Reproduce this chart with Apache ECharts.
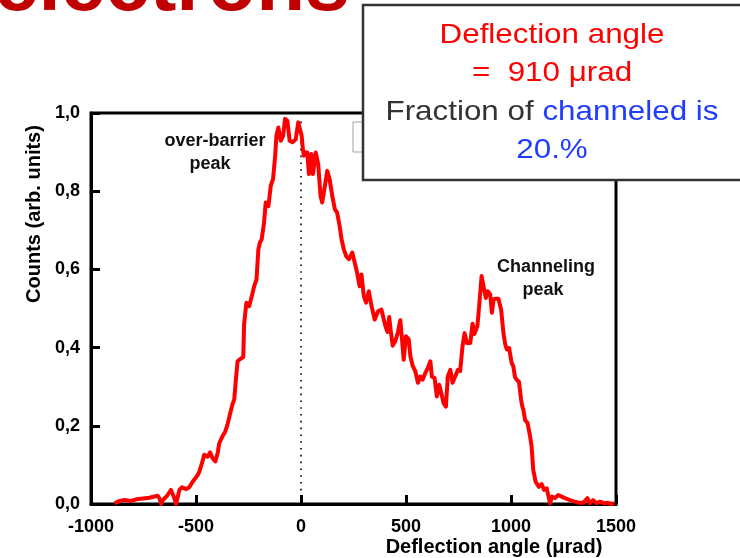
<!DOCTYPE html>
<html>
<head>
<meta charset="utf-8">
<script src="https://cdn.jsdelivr.net/npm/echarts@6/dist/echarts.min.js"></script>
<style>
  html, body { margin: 0; padding: 0; background: #fff; }
  #chart { width: 740px; height: 558px; }
</style>
</head>
<body>
<div id="chart"></div>
<script>
// Deflection angle (µrad) of each sample of the measured profile
const angle = [
  -888, -864, -840, -809, -785, -753, -722, -698, -682, -674, -666, -658, -635, -619, -603, -595,
  -579, -566, -547, -532, -516, -492, -484, -469, -461, -445, -433, -421, -408, -397, -389, -374,
  -361, -350, -339, -326, -318, -310, -302, -286, -275, -271, -260, -247, -234, -223, -212, -203,
  -196, -187, -176, -168, -155, -144, -133, -123, -117, -108, -96, -85, -76, -65, -54, -41,
  -25, -13, -5, 3, 9, 14, 19, 30, 38, 49, 57, 70, 82, 93, 101, 114,
  125, 136, 149, 161, 172, 184, 193, 204, 215, 228, 244, 256, 267, 279, 288, 299,
  310, 323, 336, 351, 367, 383, 402, 412, 420, 428, 437, 450, 462, 473, 481, 489,
  500, 513, 521, 532, 544, 557, 568, 579, 592, 604, 616, 623, 636, 647, 658, 668,
  679, 690, 699, 711, 722, 734, 747, 758, 769, 779, 790, 806, 817, 826, 840, 849,
  860, 869, 880, 890, 901, 909, 917, 928, 940, 953, 964, 972, 980, 991, 1003, 1011,
  1019, 1027, 1038, 1048, 1054, 1059, 1067, 1079, 1091, 1098, 1106, 1117, 1133, 1146, 1158, 1170,
  1186, 1196, 1209, 1225, 1241, 1257, 1281, 1304, 1328, 1344, 1364, 1375, 1391, 1407, 1423, 1443,
  1462, 1478, 1491
];

// Normalised counts at each angle
const counts = [
  0.002, 0.008, 0.010, 0.008, 0.012, 0.014, 0.016, 0.019, 0.021, 0.014, 0.000, 0.010, 0.023, 0.036, 0.015, 0.000,
  0.036, 0.043, 0.038, 0.043, 0.057, 0.074, 0.083, 0.109, 0.126, 0.121, 0.132, 0.117, 0.109, 0.130, 0.156, 0.173,
  0.185, 0.203, 0.228, 0.256, 0.267, 0.318, 0.365, 0.372, 0.376, 0.460, 0.515, 0.506, 0.532, 0.557, 0.574, 0.651,
  0.668, 0.677, 0.720, 0.771, 0.762, 0.814, 0.831, 0.891, 0.942, 0.963, 0.929, 0.942, 0.985, 0.980, 0.929, 0.925,
  0.933, 0.976, 0.972, 0.942, 0.908, 0.891, 0.899, 0.899, 0.844, 0.895, 0.844, 0.899, 0.869, 0.788, 0.771, 0.814,
  0.852, 0.831, 0.788, 0.754, 0.745, 0.711, 0.677, 0.651, 0.634, 0.626, 0.643, 0.617, 0.592, 0.557, 0.587, 0.532,
  0.515, 0.544, 0.506, 0.472, 0.493, 0.497, 0.455, 0.440, 0.478, 0.440, 0.405, 0.418, 0.440, 0.470, 0.421, 0.369,
  0.429, 0.421, 0.378, 0.353, 0.340, 0.310, 0.326, 0.318, 0.335, 0.348, 0.365, 0.326, 0.322, 0.275, 0.305, 0.284,
  0.258, 0.249, 0.326, 0.343, 0.310, 0.326, 0.343, 0.340, 0.403, 0.437, 0.412, 0.412, 0.461, 0.435, 0.455, 0.510,
  0.583, 0.557, 0.527, 0.544, 0.536, 0.489, 0.523, 0.525, 0.525, 0.497, 0.437, 0.410, 0.395, 0.399, 0.361, 0.352,
  0.325, 0.318, 0.312, 0.267, 0.249, 0.241, 0.215, 0.207, 0.173, 0.147, 0.087, 0.057, 0.044, 0.051, 0.036, 0.040,
  0.002, 0.019, 0.015, 0.023, 0.019, 0.015, 0.010, 0.006, 0.003, 0.003, 0.015, 0.002, 0.010, 0.002, 0.006, 0.002,
  0.003, 0.000, 0.002
];

// Axis ranges and steps
const xRange = [-1000, 1500];
const xStep = 500;
const yRange = [0, 1];
const yStep = 0.2;

// Texts
const headline = 'electrons';
const xTitle = 'Deflection angle (\u03bcrad)';
const yTitle = 'Counts (arb. units)';
const boxLines = ['Deflection angle', '=  910 \u03bcrad', 'Fraction of ', 'channeled is', '20.%'];
const peakNotes = [['over-barrier', 'peak'], ['Channeling', 'peak']];
const zeroMarker = 0;

const FONT = '"Liberation Sans", Arial, Helvetica, sans-serif';

const points = angle.map((a, i) => [a, counts[i]]);

const chart = echarts.init(document.getElementById('chart'), null, { renderer: 'canvas' });

chart.setOption({
  animation: false,
  backgroundColor: '#fff',
  grid: {
    left: 91, right: 124, top: 113, bottom: 54,
    containLabel: false,
    outerBoundsMode: 'none',
    show: true,
    borderColor: '#000',
    borderWidth: 3,
    backgroundColor: 'transparent'
  },
  xAxis: {
    type: 'value',
    min: xRange[0], max: xRange[1], interval: xStep,
    axisLine: { show: true, onZero: false, lineStyle: { color: '#000', width: 3 } },
    axisTick: { show: true, inside: true, length: 9, lineStyle: { color: '#000', width: 3 } },
    splitLine: { show: false },
    axisLabel: {
      color: '#000', fontFamily: FONT, fontWeight: 'bold', fontSize: 18, margin: 14,
      formatter: v => String(v)
    }
  },
  yAxis: {
    type: 'value',
    min: yRange[0], max: yRange[1], interval: yStep,
    axisLine: { show: true, onZero: false, lineStyle: { color: '#000', width: 3 } },
    axisTick: { show: true, inside: true, length: 9, lineStyle: { color: '#000', width: 3 } },
    splitLine: { show: false },
    axisLabel: {
      color: '#000', fontFamily: FONT, fontWeight: 'bold', fontSize: 18, margin: 11,
      formatter: v => v.toFixed(1).replace('.', ',')
    }
  },
  series: [{
    type: 'line',
    data: points,
    showSymbol: false,
    symbol: 'none',
    smooth: false,
    lineStyle: { color: '#ff0000', width: 4, join: 'round' },
    z: 3,
    markLine: {
      silent: true,
      symbol: ['none', 'none'],
      label: { show: false },
      lineStyle: { color: '#000', width: 1.6, type: [1.6, 5.2] },
      data: [[{ coord: [zeroMarker, 0] }, { coord: [zeroMarker, 0.99] }]],
      z: 2
    }
  }],
  graphic: [
    // oversized heading, clipped at the top edge
    {
      type: 'text', x: -6, y: -12, z: 10,
      style: { text: headline, font: 'bold 80px ' + FONT, fill: '#c00000', verticalAlign: 'middle' }
    },
    // legend frame partly hidden behind the result box
    {
      type: 'rect', z: 50,
      shape: { x: 353, y: 122, width: 60, height: 30 },
      style: { fill: '#fff', stroke: '#a0a0a0', lineWidth: 1 }
    },
    // result box
    {
      type: 'rect', z: 60,
      shape: { x: 363, y: 5, width: 420, height: 175 },
      style: { fill: '#fff', stroke: '#333', lineWidth: 2.5 }
    },
    {
      type: 'text', x: 552, y: 35, z: 70, scaleX: 1.12,
      style: { text: boxLines[0], font: '28px ' + FONT, fill: '#ff0000', align: 'center', verticalAlign: 'middle' }
    },
    {
      type: 'text', x: 552, y: 73, z: 70, scaleX: 1.12,
      style: { text: boxLines[1], font: '28px ' + FONT, fill: '#ff0000', align: 'center', verticalAlign: 'middle' }
    },
    {
      type: 'text', x: 552, y: 112, z: 70, scaleX: 1.12,
      style: {
        text: '{g|' + boxLines[2] + '}{b|' + boxLines[3] + '}',
        align: 'center', verticalAlign: 'middle',
        rich: {
          g: { font: '28px ' + FONT, fill: '#333', color: '#333' },
          b: { font: '28px ' + FONT, fill: '#1f3cff', color: '#1f3cff' }
        }
      }
    },
    {
      type: 'text', x: 552, y: 150, z: 70, scaleX: 1.12,
      style: { text: boxLines[4], font: '28px ' + FONT, fill: '#1f3cff', align: 'center', verticalAlign: 'middle' }
    },
    // peak annotations
    {
      type: 'text', x: 215, y: 141, z: 20,
      style: { text: peakNotes[0][0], font: 'bold 18px ' + FONT, fill: '#111', align: 'center', verticalAlign: 'middle' }
    },
    {
      type: 'text', x: 210, y: 164, z: 20,
      style: { text: peakNotes[0][1], font: 'bold 18px ' + FONT, fill: '#111', align: 'center', verticalAlign: 'middle' }
    },
    {
      type: 'text', x: 546, y: 267, z: 20,
      style: { text: peakNotes[1][0], font: 'bold 18px ' + FONT, fill: '#111', align: 'center', verticalAlign: 'middle' }
    },
    {
      type: 'text', x: 543, y: 290, z: 20,
      style: { text: peakNotes[1][1], font: 'bold 18px ' + FONT, fill: '#111', align: 'center', verticalAlign: 'middle' }
    },
    // axis titles
    {
      type: 'text', x: 494, y: 547, z: 20,
      style: { text: xTitle, font: 'bold 20px ' + FONT, fill: '#000', align: 'center', verticalAlign: 'middle' }
    },
    {
      type: 'text', x: 34, y: 214, z: 20, rotation: Math.PI / 2,
      style: { text: yTitle, font: 'bold 20px ' + FONT, fill: '#000', align: 'center', verticalAlign: 'middle' }
    }
  ]
});
</script>
</body>
</html>
